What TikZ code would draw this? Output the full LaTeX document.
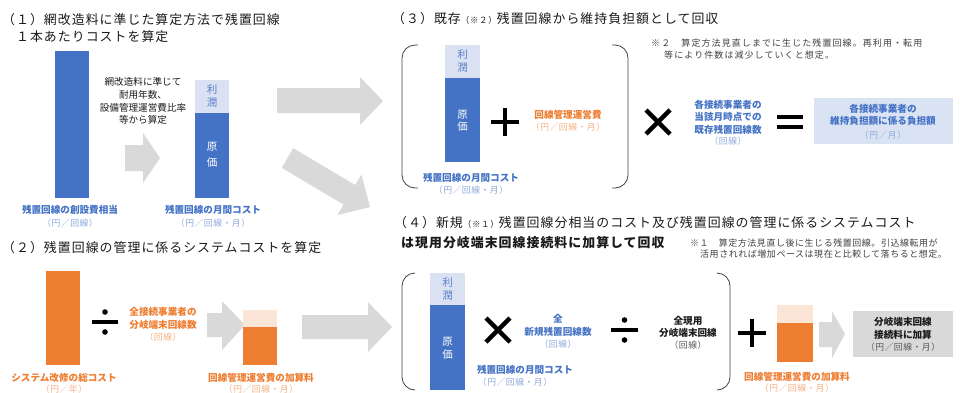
\documentclass[tikz,border=0pt]{standalone}
\usepackage{fontspec}
\setmainfont{Noto Sans CJK JP}
\newfontfamily\titlefont[LetterSpace=8]{Noto Sans CJK JP}
\newfontfamily\notefont[LetterSpace=12]{Noto Sans CJK JP}
\newfontfamily\noteonefont[LetterSpace=6]{Noto Sans CJK JP}
\newfontfamily\unitfont[LetterSpace=6]{Noto Sans CJK JP}
\definecolor{cblue}{HTML}{4472C4}
\definecolor{clblue}{HTML}{D9E1F2}
\definecolor{cmblue}{HTML}{5B7FC7}
\definecolor{bluet}{HTML}{4472C4}
\definecolor{blueu}{HTML}{8EA9DB}
\definecolor{corange}{HTML}{ED7D31}
\definecolor{clorange}{HTML}{FBE5D6}
\definecolor{oranget}{HTML}{ED7D31}
\definecolor{orangeu}{HTML}{F4B183}
\definecolor{arrowgray}{HTML}{D9D9D9}
\definecolor{boxgray}{HTML}{D9D9D9}
\definecolor{boxblue}{HTML}{DAE3F3}
\definecolor{brkgray}{HTML}{404040}
\definecolor{tblack}{HTML}{1A1A1A}
\definecolor{ngray}{HTML}{404040}
\definecolor{kunit}{HTML}{595959}
\tikzset{
  ttl/.style={font=\titlefont\fontsize{12.9}{15}\selectfont, anchor=west, inner sep=0, text=tblack},
  notetwo/.style={font=\notefont\fontsize{9}{12}\selectfont, anchor=west, inner sep=0, text=ngray},
  noteone/.style={font=\noteonefont\fontsize{9}{12}\selectfont, anchor=west, inner sep=0, text=ngray},
  bl/.style={font=\fontsize{9.6}{12.5}\selectfont\bfseries, align=center, inner sep=0, text=bluet},
  ol/.style={font=\fontsize{9.6}{12.5}\selectfont\bfseries, align=center, inner sep=0, text=oranget},
  kl/.style={font=\fontsize{9.6}{12.5}\selectfont\bfseries, align=center, inner sep=0, text=tblack},
  bu/.style={font=\unitfont\fontsize{8.8}{11}\selectfont, inner sep=0, text=blueu},
  ou/.style={font=\unitfont\fontsize{8.8}{11}\selectfont, inner sep=0, text=orangeu},
  ku/.style={font=\unitfont\fontsize{8.8}{11}\selectfont, inner sep=0, text=kunit},
  plaintext/.style={font=\fontsize{9.6}{12.7}\selectfont, align=center, inner sep=0, text=tblack},
  barc/.style={font=\fontsize{10.5}{12}\selectfont, inner sep=0},
  garrow/.style={fill=arrowgray, draw=none},
  brk/.style={draw=brkgray, line width=0.8pt, rounded corners=13pt},
  opline/.style={line width=4pt, draw=black},
  divline/.style={line width=3.2pt, draw=black},
}
\begin{document}
\begin{tikzpicture}[x=1pt,y=-1pt]
\path[use as bounding box] (0,0) rectangle (960,392);
\clip (0,0) rectangle (960,392);

% ---------- (1) ----------
\node[ttl] (t1a) at (2,20) {（１）網改造料に準じた算定方法で残置回線};
\node[ttl] (t1b) at (2,37) {　１本あたりコストを算定};
\fill[cblue] (55,51) rectangle (89,198);
\node[plaintext] (calc) at (143,101) {網改造料に準じて\\耐用年数、\\設備管理運営費比率\\等から算定};
\fill[garrow] (125,145) -- (143,145) -- (143,133) -- (160,158) -- (143,183) -- (143,171) -- (125,171) -- cycle;
\fill[clblue] (195,80) rectangle (229,113);
\fill[cblue] (195,113) rectangle (229,198);
\node[barc, text=cmblue] (r1a) at (212,90) {利};
\node[barc, text=cmblue] (r1b) at (212,103) {潤};
\node[barc, text=white] (g1a) at (212,147) {原};
\node[barc, text=white] (g1b) at (212,163) {価};
\node[bl] (l1) at (70,210) {残置回線の創設費相当};
\node[bu] (u1) at (70,223) {（円／回線）};
\node[bl] (l2) at (213,210) {残置回線の月間コスト};
\node[bu] (u2) at (213,223) {（円／回線・月）};

% big arrows
\fill[garrow] (277,88) -- (360,88) -- (360,77) -- (383,101) -- (360,125) -- (360,113) -- (277,113) -- cycle;
\fill[garrow] (293.3,148.2) -- (355.2,185.0) -- (361.4,174.6) -- (370.1,207.1) -- (337.4,215.0) -- (343.6,204.6) -- (281.7,167.8) -- cycle;

% ---------- (2) ----------
\node[ttl] (t2) at (2,248) {（２）残置回線の管理に係るシステムコストを算定};
\fill[corange] (46,271) rectangle (80,365);
\draw[divline] (92,322) -- (118,322);
\fill (105,312) circle (2.8);
\fill (105,332) circle (2.8);
\node[ol] (o1) at (163,318.5) {全接続事業者の\\分岐端末回線数};
\node[ou] (o1u) at (163,337) {（回線）};
\fill[garrow] (207,313) -- (222,313) -- (222,301) -- (245,325) -- (222,350) -- (222,337) -- (207,337) -- cycle;
\fill[clorange] (243,310) rectangle (277,327);
\fill[corange] (243,327) rectangle (277,365);
\fill[garrow] (302,315) -- (368,315) -- (368,302) -- (392,327) -- (368,352) -- (368,339) -- (302,339) -- cycle;
\node[ol] (l3) at (64,378) {システム改修の総コスト};
\node[ou] (u3) at (64,389.5) {（円／年）};
\node[ol] (l4) at (261,378) {回線管理運営費の加算料};
\node[ou] (u4) at (261,389.5) {（円／回線・月）};

% ---------- (3) ----------
\node[ttl] (t3) at (392,19) {（３）既存{\fontsize{8.5}{10}\selectfont（※２）}残置回線から維持負担額として回収};
\node[notetwo] (n2a) at (651,43) {※２　算定方法見直しまでに生じた残置回線。再利用・転用};
\node[notetwo] (n2b) at (664,55) {等により件数は減少していくと想定。};
\draw[brk] (418,45) -- (402,45) -- (402,188) -- (418,188);
\draw[brk] (612,45) -- (628,45) -- (628,188) -- (612,188);
\fill[clblue] (445,45) rectangle (480,78);
\fill[cblue] (445,78) rectangle (480,162);
\node[barc, text=cmblue] (r3a) at (462.5,55) {利};
\node[barc, text=cmblue] (r3b) at (462.5,68) {潤};
\node[barc, text=white] (g3a) at (462.5,115) {原};
\node[barc, text=white] (g3b) at (462.5,127) {価};
\draw[opline] (491,122) -- (519,122) (505,108) -- (505,136);
\node[ol] (o3) at (568,115) {回線管理運営費};
\node[ou] (o3u) at (568,127) {（円／回線・月）};
\draw[opline, line width=4.5pt] (646,110) -- (670,134) (646,134) -- (670,110);
\node[bl] (b3) at (728,117) {各接続事業者の\\当該月時点での\\既存残置回線数};
\node[bu] (b3u) at (728,141) {（回線）};
\draw[opline] (777,117) -- (803,117) (777,127) -- (803,127);
\node[fill=boxblue, minimum width=139pt, minimum height=46pt, inner sep=0] (res3) at (883.5,121) {};
\node[bl] (res3t) at (883,115) {各接続事業者の\\維持負担額に係る負担額};
\node[bu] (res3u) at (883,135) {（円／月）};
\node[bl] (l5) at (471,178) {残置回線の月間コスト};
\node[bu] (u5) at (471,190) {（円／回線・月）};

% ---------- (4) ----------
\node[ttl] (t4a) at (394,223) {（４）新規{\fontsize{8.5}{10}\selectfont（※１）}残置回線分相当のコスト及び残置回線の管理に係るシステムコスト};
\node[ttl, font=\titlefont\fontsize{12.9}{15}\selectfont\bfseries] (t4b) at (401,243) {は現用分岐端末回線接続料に加算して回収};
\node[noteone] (n1a) at (690,243) {※１　算定方法見直し後に生じる残置回線。引込線転用が};
\node[noteone] (n1b) at (700,254) {活用されれば増加ペースは現在と比較して落ちると想定。};
\draw[brk] (415,273) -- (402,273) -- (402,390) -- (415,390);
\draw[brk] (717,273) -- (730,273) -- (730,390) -- (717,390);
\fill[clblue] (430,273) rectangle (465,305);
\fill[cblue] (430,305) rectangle (465,390);
\node[barc, text=cmblue] (r4a) at (447.5,283) {利};
\node[barc, text=cmblue] (r4b) at (447.5,296) {潤};
\node[barc, text=white] (g4a) at (447.5,342) {原};
\node[barc, text=white] (g4b) at (447.5,355) {価};
\draw[opline, line width=4.5pt] (486,318) -- (510,342) (486,342) -- (510,318);
\node[bl] (b4) at (558,325.5) {全\\新規残置回線数};
\node[bu] (b4u) at (558,344) {（回線）};
\draw[divline] (611,330) -- (638,330);
\fill (624.5,320) circle (2.8);
\fill (624.5,340) circle (2.8);
\node[kl] (k4) at (688,327) {全現用\\分岐端末回線};
\node[ku] (k4u) at (688,345) {（回線）};
\node[bl] (l6) at (525,370) {残置回線の月間コスト};
\node[bu] (u6) at (515,382) {（円／回線・月）};
\draw[opline] (738,333) -- (766,333) (752,319) -- (752,347);
\fill[clorange] (777,305) rectangle (813,323);
\fill[corange] (777,323) rectangle (813,362);
\fill[garrow] (819,322) -- (832,322) -- (832,311) -- (845,334) -- (832,358) -- (832,347) -- (819,347) -- cycle;
\node[fill=boxgray, minimum width=100pt, minimum height=46pt, inner sep=0] (res4) at (903,334) {};
\node[kl] (res4t) at (903,328.5) {分岐端末回線\\接続料に加算};
\node[ku] (res4u) at (903,347) {（円／回線・月）};
\node[ol] (l7) at (797,377) {回線管理運営費の加算料};
\node[ou] (u7) at (797,388) {（円／回線・月）};
\end{tikzpicture}
\end{document}
